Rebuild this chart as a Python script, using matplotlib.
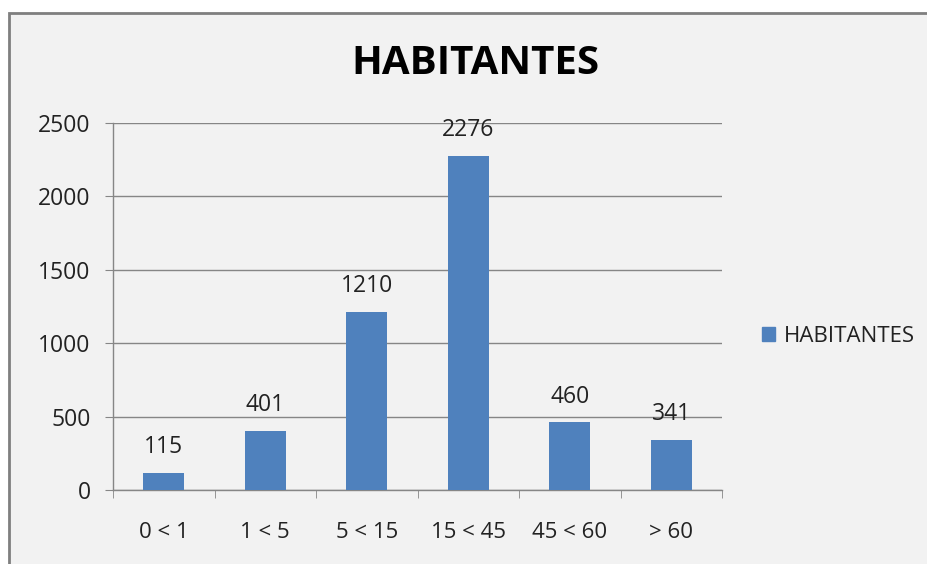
import matplotlib
matplotlib.use("Agg")
import matplotlib.pyplot as plt
from matplotlib.patches import Rectangle, Patch

categories = ["0 < 1", "1 < 5", "5 < 15", "15 < 45", "45 < 60", "> 60"]
values = [115, 401, 1210, 2276, 460, 341]
series_name = "HABITANTES"
title = "HABITANTES"
yticks = [0, 500, 1000, 1500, 2000, 2500]

plt.rcParams['font.family'] = ['Open Sans', 'DejaVu Sans']
bar_color = "#4F81BD"
grid_color = "#868686"
text_color = "#222222"

fig = plt.figure(figsize=(9.28, 5.64), dpi=100)
fig.patch.set_facecolor("white")
bg = Rectangle((9/928, -0.05), 1.1, 1 - 13/564 + 0.05, transform=fig.transFigure,
               facecolor="#F2F2F2", edgecolor="#7F7F7F", linewidth=2, zorder=-10)
fig.patches.append(bg)

ax = fig.add_axes([113/928, 1 - 490/564, (722 - 113)/928, (490 - 123)/564])
ax.set_facecolor("none")
x = list(range(len(categories)))
bars = ax.bar(x, values, width=0.4, color=bar_color, zorder=3, label=series_name)
ax.set_xlim(-0.5, len(categories) - 0.5)
ax.set_ylim(0, 2500)
ax.set_yticks(yticks)
ax.set_yticklabels([str(v) for v in yticks], fontsize=16.5, color=text_color)
ax.set_xticks(x)
ax.set_xticklabels(categories, fontsize=16, color=text_color)
ax.tick_params(axis='x', length=0, pad=23)
ax.set_xticks([i - 0.5 for i in range(len(categories) + 1)], minor=True)
ax.tick_params(axis='x', which='minor', length=6, direction='out', color=grid_color)
ax.tick_params(axis='y', length=6, direction='out', color=grid_color, pad=10)
ax.grid(axis='y', color=grid_color, linewidth=1, zorder=1)
for s in ['top', 'right']:
    ax.spines[s].set_visible(False)
for s in ['left', 'bottom']:
    ax.spines[s].set_color(grid_color)
    ax.spines[s].set_linewidth(1)

for xi, v in zip(x, values):
    ax.annotate(str(v), (xi, v), xytext=(0, 10), textcoords='offset points',
                ha='center', va='bottom', fontsize=16.5, color=text_color, zorder=4)

fig.text(475/928, 1 - 64/564, title, ha='center', va='center', fontsize=29,
         fontweight='bold', color='black')

leg = fig.legend(handles=[Patch(color=bar_color)], labels=[series_name],
                 loc='center left', bbox_to_anchor=(742/928, 1 - 336/564),
                 frameon=False, fontsize=16, handlelength=0.6, handleheight=0.6,
                 handletextpad=0.4, labelcolor=text_color)

fig.savefig("out.png", dpi=100, facecolor=fig.get_facecolor())
